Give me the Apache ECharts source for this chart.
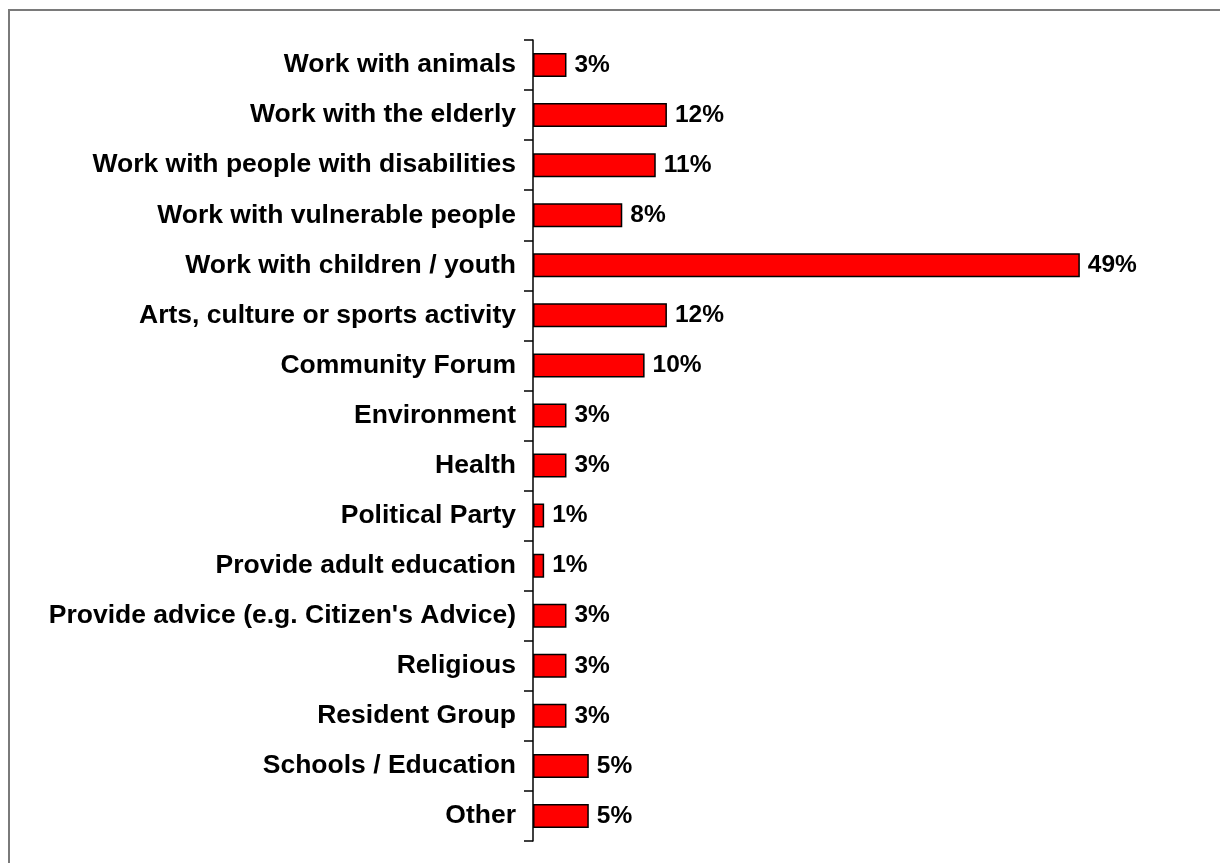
<!DOCTYPE html>
<html>
<head>
<meta charset="utf-8">
<script src="https://cdn.jsdelivr.net/npm/echarts@6/dist/echarts.min.js"></script>
<style>
html,body{margin:0;padding:0;background:#fff;}
#chart{width:1220px;height:863px;}
</style>
</head>
<body>
<div id="chart"></div>
<script>
const categories = [
  "Work with animals",
  "Work with the elderly",
  "Work with people with disabilities",
  "Work with vulnerable people",
  "Work with children / youth",
  "Arts, culture or sports activity",
  "Community Forum",
  "Environment",
  "Health",
  "Political Party",
  "Provide adult education",
  "Provide advice (e.g. Citizen's Advice)",
  "Religious",
  "Resident Group",
  "Schools / Education",
  "Other"
];
const values = [3, 12, 11, 8, 49, 12, 10, 3, 3, 1, 1, 3, 3, 3, 5, 5];

const chart = echarts.init(document.getElementById('chart'), null, {renderer: 'canvas'});
chart.setOption({
  animation: false,
  backgroundColor: '#fff',
  graphic: [{
    type: 'rect',
    shape: {x: 9, y: 10, width: 1230, height: 900},
    style: {fill: 'none', stroke: '#7a7a7a', lineWidth: 2},
    silent: true
  }],
  grid: {left: 533, right: 129, top: 40, bottom: 22, containLabel: false},
  xAxis: {
    type: 'value', min: 0, max: 50, show: false
  },
  yAxis: {
    type: 'category',
    data: categories,
    inverse: true,
    axisLine: {show: true, lineStyle: {color: '#000', width: 1.5}},
    axisTick: {show: true, length: 9, lineStyle: {color: '#000', width: 1.5}},
    axisLabel: {
      color: '#000', fontFamily: 'Liberation Sans, Arial, sans-serif',
      fontWeight: 'bold', fontSize: 26.5, margin: 17
    }
  },
  series: [{
    type: 'bar',
    data: values,
    barWidth: 24,
    itemStyle: {color: '#ff0000', borderColor: '#000', borderWidth: 1.5},
    label: {
      show: true, position: 'right', distance: 8,
      formatter: p => p.value + '%',
      color: '#000', fontFamily: 'Liberation Sans, Arial, sans-serif',
      fontWeight: 'bold', fontSize: 24.5
    }
  }]
});
</script>
</body>
</html>
